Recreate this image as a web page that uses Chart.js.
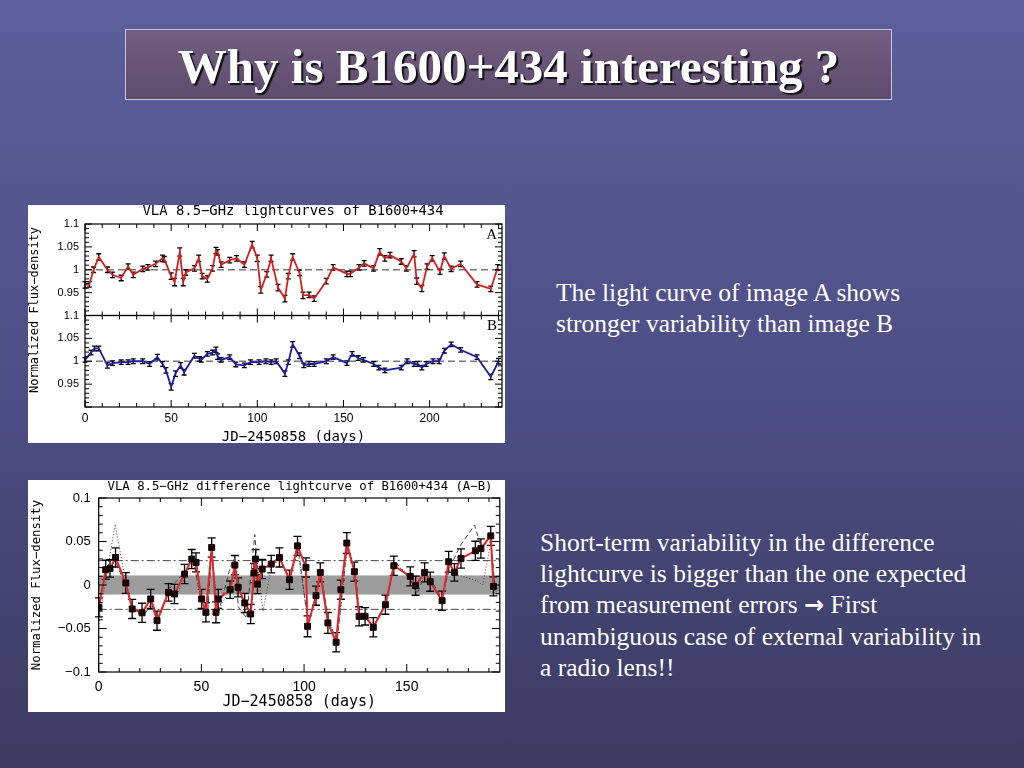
<!DOCTYPE html>
<html lang="en">

<head>
  <meta charset="UTF-8">
  <title>Why is B1600+434 interesting ?</title>
  <script src="https://cdn.jsdelivr.net/npm/chart.js@4.4.1/dist/chart.umd.min.js"></script>
  <style>
    html,
    body {
      margin: 0;
      padding: 0;
    }

    body {
      width: 1024px;
      height: 768px;
      overflow: hidden;
      position: relative;
      background: linear-gradient(180deg, #5d5f9c 0%, #4d4e85 50%, #3b3b61 100%);
    }

    .title-box {
      position: absolute;
      left: 125px;
      top: 29px;
      width: 767px;
      height: 71px;
      box-sizing: border-box;
      border: 1px solid #c9c6d8;
      background: linear-gradient(180deg, #715e80 0%, #5e4c6e 100%);
    }

    .title-box h1 {
      position: relative;
      top: 8px;
      margin: 0;
      line-height: 69px;
      text-align: center;
      color: #fff;
      font: bold 49px 'Liberation Serif', serif;
      text-shadow: 2px 2px 1px #111;
      white-space: nowrap;
    }

    .fig {
      position: absolute;
      left: 28px;
      width: 477px;
      background: #fff;
    }

    .fig.top {
      top: 205px;
      height: 238px;
    }

    .fig.bot {
      top: 480px;
      height: 232px;
    }

    .note {
      position: absolute;
      color: #fff;
      font-family: 'Liberation Serif', serif;
      font-size: 25.5px;
      line-height: 31px;
      white-space: nowrap;
    }

    .note .arrow {
      font-family: 'DejaVu Sans', sans-serif;
      font-weight: bold;
      font-size: 24px;
    }
  </style>
</head>

<body>
  <div class="title-box">
    <h1>Why is B1600+434 interesting ?</h1>
  </div>

  <!-- 상단 그림 : A, B 광도곡선 -->
  <div class="fig top">
    <canvas id="chartLc"></canvas>
  </div>

  <!-- 하단 그림 : 차이 광도곡선 (A-B) -->
  <div class="fig bot">
    <canvas id="chartDiff"></canvas>
  </div>

  <div class="note" style="left:556px; top:277px;">
    The light curve of image A shows<br>stronger variability than image B
  </div>

  <div class="note" style="left:540px; top:527px;">
    Short-term variability in the difference<br>lightcurve is bigger than the one expected<br>from measurement errors <span class="arrow">&rarr;</span> First<br>unambiguous case of external variability in<br>a radio lens!!
  </div>

  <script>
    // image A lightcurve
    const daysA = [0, 2.5, 5, 8, 13, 16, 21, 25, 28, 33.5, 36.5, 41, 45, 46, 50, 52, 55, 57, 58.5, 63.5,
      66, 68, 71, 74, 76, 77, 79, 84, 88, 92.5, 97, 100, 102, 105.5, 108, 112, 116, 118, 120.5, 124.5,
      126.5, 130, 133, 140, 144, 152, 154, 159, 162, 167.5, 171, 174, 177, 183.5, 186.5, 191, 192.5, 195.5, 198.5, 201.5,
      206, 208.5, 212.5, 218, 227.5, 235.5, 239.5];
    const fluxA = [0.967, 0.968, 1.0, 1.028, 1.0, 0.989, 0.982, 1.007, 0.989, 1.002, 1.005, 1.013, 1.025, 1.023, 0.986, 0.973, 1.039, 0.973, 0.994, 1.003,
      1.025, 0.986, 0.980, 1.003, 1.042, 1.038, 1.011, 1.021, 1.025, 1.011, 1.055, 1.025, 0.956, 0.99, 1.025, 0.961, 0.937, 0.986, 1.028, 0.993,
      0.944, 0.945, 0.937, 0.975, 1.005, 0.991, 0.991, 1.005, 1.014, 1.003, 1.039, 1.025, 1.032, 1.018, 1.003, 1.035, 0.975, 0.959, 1.007, 1.025,
      0.996, 1.030, 1.002, 1.013, 0.968, 0.958, 1.005];
    const errA = [0.007, 0.006, 0.006, 0.007, 0.006, 0.006, 0.006, 0.006, 0.006, 0.006, 0.006, 0.006, 0.007, 0.006, 0.007, 0.008, 0.009, 0.008, 0.006, 0.006,
      0.007, 0.006, 0.007, 0.006, 0.007, 0.006, 0.006, 0.006, 0.006, 0.006, 0.007, 0.007, 0.007, 0.006, 0.007, 0.007, 0.007, 0.006, 0.007, 0.006,
      0.007, 0.006, 0.006, 0.006, 0.006, 0.006, 0.006, 0.006, 0.006, 0.006, 0.007, 0.006, 0.006, 0.006, 0.006, 0.007, 0.007, 0.007, 0.006, 0.006,
      0.006, 0.007, 0.006, 0.006, 0.006, 0.006, 0.006];

    // image B lightcurve
    const daysB = [0, 3.5, 5.5, 8, 13, 16, 21, 25, 28, 33.5, 37.5, 42, 45, 47, 50, 52.5, 55.5, 57.5, 63.5, 66.5,
      67.5, 71, 74, 76, 77, 79, 84, 87.5, 92.5, 96, 101, 105, 108, 111, 116, 118, 120.5, 124.5, 127, 130,
      133, 140, 144, 152, 155, 158.5, 161.5, 167.5, 170.5, 174, 183.5, 187, 191, 193, 195.5, 198, 202, 205.5, 208.5, 212.5,
      218, 227.5, 235.5, 240];
    const fluxB = [1.003, 1.019, 1.028, 1.028, 0.991, 0.996, 0.998, 0.998, 1.0, 1.0, 0.994, 1.009, 0.994, 0.980, 0.944, 0.973, 0.991, 0.976, 1.012, 1.005,
      1.003, 1.016, 1.019, 1.025, 1.010, 1.003, 1.009, 0.993, 0.991, 0.998, 0.998, 1.0, 0.998, 1.0, 0.973, 0.998, 1.037, 1.012, 0.991, 0.994,
      0.994, 1.0, 1.009, 0.996, 1.016, 1.007, 1.003, 0.994, 0.986, 0.980, 0.986, 1.0, 0.994, 0.994, 0.986, 0.994, 1.0, 1.0, 1.023, 1.037,
      1.025, 1.009, 0.966, 1.0];
    const errB = [0.005, 0.005, 0.005, 0.005, 0.006, 0.005, 0.005, 0.005, 0.005, 0.005, 0.005, 0.006, 0.005, 0.006, 0.007, 0.006, 0.006, 0.006, 0.005, 0.005,
      0.005, 0.005, 0.005, 0.006, 0.006, 0.005, 0.005, 0.005, 0.005, 0.005, 0.005, 0.005, 0.005, 0.005, 0.006, 0.005, 0.006, 0.006, 0.005, 0.005,
      0.005, 0.005, 0.005, 0.005, 0.005, 0.005, 0.005, 0.005, 0.005, 0.005, 0.005, 0.005, 0.005, 0.005, 0.005, 0.005, 0.005, 0.005, 0.005, 0.005,
      0.005, 0.005, 0.006, 0.006];

    // difference lightcurve A-B
    const daysD = [0.1, 3.4, 5.5, 8.2, 13.2, 16.3, 21.1, 25.3, 28.4, 34, 36.9, 41.8, 45.3, 47.4, 50.1, 52.2, 55, 57.1, 58.2, 64,
      66.3, 67.9, 71.1, 74, 75.6, 76.4, 77.3, 79.6, 84, 88, 92.9, 96.8, 100.9, 101.7, 105.8, 107.9, 111.6, 115.6, 117.9, 120.8,
      124.5, 126.8, 129.7, 133.7, 139.6, 143.7, 151.7, 154.3, 158.7, 161.4, 167.2, 170.4, 173.2, 176.4, 183.4, 186.1, 190.9, 192.2];
    const diffD = [-0.0257, 0.0175, 0.019, 0.0317, 0.0023, -0.0275, -0.032, -0.016, -0.041, -0.0085, -0.0103, 0.0126, 0.0298, 0.026, -0.016, -0.0314, 0.0431, -0.0314, -0.016, -0.0054,
      0.0229, -0.0027, -0.0206, -0.0333, 0.0138, 0.0298, 0.001, 0.0183, 0.024, 0.0317, 0.006, 0.045, 0.0202, -0.0475, -0.0123, 0.0145, -0.0436, -0.0658, -0.0054, 0.0482,
      0.0153, -0.036, -0.036, -0.0486, -0.0226, 0.0221, 0.0099, -0.0008, 0.0145, 0.0038, -0.018, 0.0267, 0.0145, 0.0305, 0.0393, 0.042, 0.0565, -0.0016];
    const errD = [0.011, 0.011, 0.010, 0.011, 0.012, 0.011, 0.011, 0.011, 0.011, 0.010, 0.011, 0.011, 0.011, 0.011, 0.011, 0.011, 0.011, 0.012, 0.011, 0.010,
      0.011, 0.011, 0.011, 0.011, 0.011, 0.011, 0.011, 0.011, 0.010, 0.011, 0.011, 0.011, 0.011, 0.012, 0.011, 0.011, 0.012, 0.011, 0.011, 0.012,
      0.011, 0.011, 0.010, 0.011, 0.011, 0.011, 0.011, 0.011, 0.011, 0.011, 0.011, 0.012, 0.010, 0.011, 0.011, 0.011, 0.011, 0.011];

    // other estimates of the difference curve (dashed / dotted)
    const dashedDays = [0, 4, 8, 13, 17, 22, 26, 29, 34, 38, 42, 46, 50, 53, 55, 58, 64, 66, 68, 72, 76, 78, 80, 84, 88,
      93, 97, 102, 106, 108, 112, 116, 121, 125, 127, 130, 134, 140, 144, 152, 155, 159, 162, 167, 171, 176, 183, 186, 191, 193, 195];
    const dashedVals = [-0.02, 0.015, 0.028, 0.0, -0.03, -0.035, -0.02, -0.04, -0.005, 0.005, 0.015, 0.03, -0.02, -0.035, 0.04, -0.035, 0.02, 0.03, -0.025, -0.038, 0.058, 0.0, 0.02, 0.022, 0.03,
      0.008, 0.045, -0.045, -0.012, 0.015, -0.04, -0.065, 0.045, 0.015, -0.035, -0.036, -0.048, -0.02, 0.028, 0.005, -0.01, 0.012, 0.005, -0.015, 0.02, 0.045, 0.069, 0.045, 0.05, -0.005, 0.0];
    const dottedDays = [0, 3, 8, 13, 17, 22, 26, 29, 34, 38, 42, 46, 50, 53, 55, 58, 64, 67, 70, 74, 77, 80, 84, 88, 93,
      97, 102, 106, 108, 112, 116, 121, 125, 127, 130, 134, 140, 144, 152, 155, 159, 162, 167, 171, 173, 177, 184, 187, 191, 193, 195];
    const dottedVals = [-0.045, 0.0, 0.07, 0.005, -0.03, -0.03, -0.015, -0.04, -0.01, -0.012, 0.01, 0.028, -0.018, -0.03, 0.04, -0.03, -0.005, 0.02, -0.02, -0.035, 0.028, -0.03, 0.02, 0.03, 0.005,
      0.04, -0.045, -0.01, 0.012, -0.04, -0.068, 0.045, 0.012, -0.035, -0.034, -0.045, -0.02, 0.025, 0.01, 0.0, 0.012, 0.004, -0.016, 0.025, 0.012, 0.01, 0.005, 0.0, 0.05, -0.01, 0.0];

    // tick labels
    const xTicksTop = [0, 50, 100, 150, 200];
    const yTicksPanel = [0.95, 1, 1.05, 1.1];
    const xTicksBot = [0, 50, 100, 150];
    const yTicksBot = [-0.1, -0.05, 0, 0.05, 0.1];

    // expected scatter from measurement errors (grey band) and its 2.5 sigma level
    const bandHalf = 0.011;
    const dashDotLevel = 0.028;

    const MINUS = '\u2212';
    const pts = (xs, ys) => xs.map((x, i) => ({ x: x, y: ys[i] }));
    const fmt = v => (v < 0 ? MINUS + Math.abs(v) : String(v));

    // 프레임, 안쪽 눈금, 오차막대, 제목 그리는 플러그인
    const framePlugin = {
      id: 'frame',
      beforeDatasetsDraw(chart, args, o) {
        const ctx = chart.ctx;
        const area = chart.chartArea;
        const xs = chart.scales.x;
        ctx.save();
        o.panels.forEach(id => {
          const ys = chart.scales[id];
          if (o.band) {
            const t = ys.getPixelForValue(o.band);
            const b = ys.getPixelForValue(-o.band);
            ctx.fillStyle = '#9c9c9c';
            ctx.fillRect(area.left, t, area.right - area.left, b - t);
          }
          if (o.dashDot) {
            ctx.strokeStyle = '#333';
            ctx.lineWidth = 0.9;
            ctx.setLineDash([8, 3, 2, 3]);
            [o.dashDot, -o.dashDot].forEach(v => {
              const py = ys.getPixelForValue(v);
              ctx.beginPath();
              ctx.moveTo(area.left, py);
              ctx.lineTo(area.right, py);
              ctx.stroke();
            });
          }
          if (o.refLine != null) {
            const py = ys.getPixelForValue(o.refLine);
            ctx.strokeStyle = '#777';
            ctx.lineWidth = 1.3;
            ctx.setLineDash([7, 4]);
            ctx.beginPath();
            ctx.moveTo(area.left, py);
            ctx.lineTo(area.right, py);
            ctx.stroke();
          }
        });
        // error bars
        ctx.setLineDash([]);
        ctx.strokeStyle = '#000';
        ctx.lineWidth = 1.3;
        chart.data.datasets.forEach(ds => {
          if (!ds.errors) return;
          const ys = chart.scales[ds.yAxisID];
          ds.data.forEach((p, j) => {
            const px = xs.getPixelForValue(p.x);
            const t = ys.getPixelForValue(p.y + ds.errors[j]);
            const b = ys.getPixelForValue(p.y - ds.errors[j]);
            ctx.beginPath();
            ctx.moveTo(px, t);
            ctx.lineTo(px, b);
            ctx.moveTo(px - o.cap, t);
            ctx.lineTo(px + o.cap, t);
            ctx.moveTo(px - o.cap, b);
            ctx.lineTo(px + o.cap, b);
            ctx.stroke();
          });
        });
        ctx.restore();
      },
      afterDatasetsDraw(chart, args, o) {
        const ctx = chart.ctx;
        const area = chart.chartArea;
        const xs = chart.scales.x;
        ctx.save();
        ctx.strokeStyle = '#000';
        ctx.setLineDash([]);
        o.panels.forEach(id => {
          const ys = chart.scales[id];
          const top = ys.top, bottom = ys.bottom;
          ctx.lineWidth = 1.2;
          ctx.strokeRect(area.left, top, area.right - area.left, bottom - top);
          ctx.lineWidth = 1;
          ctx.beginPath();
          for (let v = xs.min; v <= xs.max + 1e-6; v += o.xMinor) {
            const px = xs.getPixelForValue(v);
            const major = Math.abs(v / o.xMajor - Math.round(v / o.xMajor)) < 1e-6;
            const len = major ? o.majLen : o.minLen;
            ctx.moveTo(px, bottom);
            ctx.lineTo(px, bottom - len);
            ctx.moveTo(px, top);
            ctx.lineTo(px, top + len);
          }
          const n = Math.round((ys.max - ys.min) / o.yMinor);
          for (let k = 0; k <= n; k++) {
            const v = ys.min + k * o.yMinor;
            const py = ys.getPixelForValue(v);
            const major = Math.abs(v / o.yMajor - Math.round(v / o.yMajor)) < 1e-6;
            const len = major ? o.majLen : o.minLen;
            ctx.moveTo(area.left, py);
            ctx.lineTo(area.left + len, py);
            ctx.moveTo(area.right, py);
            ctx.lineTo(area.right - len, py);
          }
          ctx.stroke();
          if (o.letters && o.letters[id]) {
            ctx.fillStyle = '#000';
            ctx.font = '15px "Liberation Serif", serif';
            ctx.textAlign = 'right';
            ctx.textBaseline = 'middle';
            ctx.fillText(o.letters[id], area.right - 5, top + 11);
          }
        });
        ctx.restore();
      },
      afterDraw(chart, args, o) {
        const ctx = chart.ctx;
        ctx.save();
        ctx.fillStyle = '#000';
        ctx.textAlign = 'center';
        ctx.textBaseline = 'middle';
        ctx.font = o.titleFont;
        ctx.fillText(o.title, o.titlePos[0], o.titlePos[1]);
        ctx.translate(o.yTitlePos[0], o.yTitlePos[1]);
        ctx.rotate(-Math.PI / 2);
        ctx.font = o.yTitleFont;
        ctx.fillText(o.yTitle, 0, 0);
        ctx.restore();
      }
    };

    const monoFont = '"DejaVu Sans Mono", monospace';
    const sansFont = '"Liberation Sans", Arial, sans-serif';

    // 상단 차트 (A, B 패널) - 스택 축
    const panelAxis = () => ({
      type: 'linear',
      position: 'left',
      stack: 'lc',
      stackWeight: 1,
      min: 0.9,
      max: 1.1,
      grid: { display: false, tickLength: 0 },
      border: { display: false },
      afterBuildTicks: s => { s.ticks = yTicksPanel.map(v => ({ value: v })); },
      afterFit: s => { s.width = 57; },
      ticks: { color: '#000', padding: 6, font: { family: sansFont, size: 11 }, callback: fmt }
    });

    new Chart(document.getElementById('chartLc'), {
      type: 'line',
      plugins: [framePlugin],
      data: {
        datasets: [
          {
            label: 'A', data: pts(daysA, fluxA), errors: errA, yAxisID: 'yA',
            borderColor: '#d41f1f', borderWidth: 1.8, pointRadius: 0, tension: 0
          },
          {
            label: 'B', data: pts(daysB, fluxB), errors: errB, yAxisID: 'yB',
            borderColor: '#1b1ba6', borderWidth: 1.8, pointRadius: 0, tension: 0
          }
        ]
      },
      options: {
        responsive: true,
        maintainAspectRatio: false,
        animation: false,
        layout: { padding: { top: 19, right: 3, left: 0, bottom: 0 } },
        plugins: {
          legend: { display: false },
          tooltip: { enabled: false },
          frame: {
            panels: ['yA', 'yB'],
            refLine: 1,
            cap: 2.5,
            xMinor: 10, xMajor: 50,
            yMinor: 0.01, yMajor: 0.05,
            majLen: 7, minLen: 4,
            letters: { yA: 'A', yB: 'B' },
            title: 'VLA 8.5' + MINUS + 'GHz lightcurves of B1600+434',
            titleFont: '13.9px ' + monoFont,
            titlePos: [265, 6.5],
            yTitle: 'Normalized Flux' + MINUS + 'density',
            yTitleFont: '12px ' + monoFont,
            yTitlePos: [7, 105]
          }
        },
        scales: {
          x: {
            type: 'linear',
            min: 0,
            max: 242,
            grid: { display: false, tickLength: 0 },
            border: { display: false },
            afterBuildTicks: s => { s.ticks = xTicksTop.map(v => ({ value: v })); },
            afterFit: s => { s.height = 36; },
            ticks: { color: '#000', padding: 4, autoSkip: false, maxRotation: 0, font: { family: sansFont, size: 12 } },
            title: {
              display: true, text: 'JD' + MINUS + '2450858 (days)', color: '#000',
              font: { family: monoFont, size: 14 }, padding: { top: 0, bottom: -3 }
            }
          },
          // 뒤에 정의한 축이 위쪽 패널
          yB: panelAxis(),
          yA: panelAxis()
        }
      }
    });

    // 하단 차트 (차이 광도곡선)
    new Chart(document.getElementById('chartDiff'), {
      type: 'line',
      plugins: [framePlugin],
      data: {
        datasets: [
          {
            label: 'A-B', data: pts(daysD, diffD), errors: errD, yAxisID: 'y', order: 0,
            borderColor: '#e0262a', borderWidth: 2, tension: 0,
            pointStyle: 'rect', pointRadius: 4.2, pointBorderWidth: 1,
            pointBackgroundColor: '#1a0505', pointBorderColor: '#1a0505'
          },
          {
            label: 'dashed', data: pts(dashedDays, dashedVals), yAxisID: 'y', order: 1,
            borderColor: '#444', borderWidth: 1, borderDash: [5, 3], pointRadius: 0, tension: 0
          },
          {
            label: 'dotted', data: pts(dottedDays, dottedVals), yAxisID: 'y', order: 2,
            borderColor: '#444', borderWidth: 1, borderDash: [1, 2], pointRadius: 0, tension: 0
          }
        ]
      },
      options: {
        responsive: true,
        maintainAspectRatio: false,
        animation: false,
        layout: { padding: { top: 18, right: 3, left: 0, bottom: 0 } },
        plugins: {
          legend: { display: false },
          tooltip: { enabled: false },
          frame: {
            panels: ['y'],
            band: bandHalf,
            dashDot: dashDotLevel,
            cap: 4,
            xMinor: 10, xMajor: 50,
            yMinor: 0.01, yMajor: 0.05,
            majLen: 8, minLen: 4,
            title: 'VLA 8.5' + MINUS + 'GHz difference lightcurve of B1600+434 (A' + MINUS + 'B)',
            titleFont: '12.3px ' + monoFont,
            titlePos: [272, 7],
            yTitle: 'Normalized Flux' + MINUS + 'density',
            yTitleFont: '12.3px ' + monoFont,
            yTitlePos: [9, 105]
          }
        },
        scales: {
          x: {
            type: 'linear',
            min: 0,
            max: 195.3,
            grid: { display: false, tickLength: 0 },
            border: { display: false },
            afterBuildTicks: s => { s.ticks = xTicksBot.map(v => ({ value: v })); },
            afterFit: s => { s.height = 40; },
            ticks: { color: '#000', padding: 7, autoSkip: false, maxRotation: 0, font: { family: sansFont, size: 14 } },
            title: {
              display: true, text: 'JD' + MINUS + '2450858 (days)', color: '#000',
              font: { family: monoFont, size: 15 }, padding: { top: 0, bottom: 1 }
            }
          },
          y: {
            type: 'linear',
            min: -0.1,
            max: 0.1,
            grid: { display: false, tickLength: 0 },
            border: { display: false },
            afterBuildTicks: s => { s.ticks = yTicksBot.map(v => ({ value: v })); },
            afterFit: s => { s.width = 70.7; },
            ticks: { color: '#000', padding: 8, font: { family: sansFont, size: 13 }, callback: fmt }
          }
        }
      }
    });
  </script>
</body>

</html>
